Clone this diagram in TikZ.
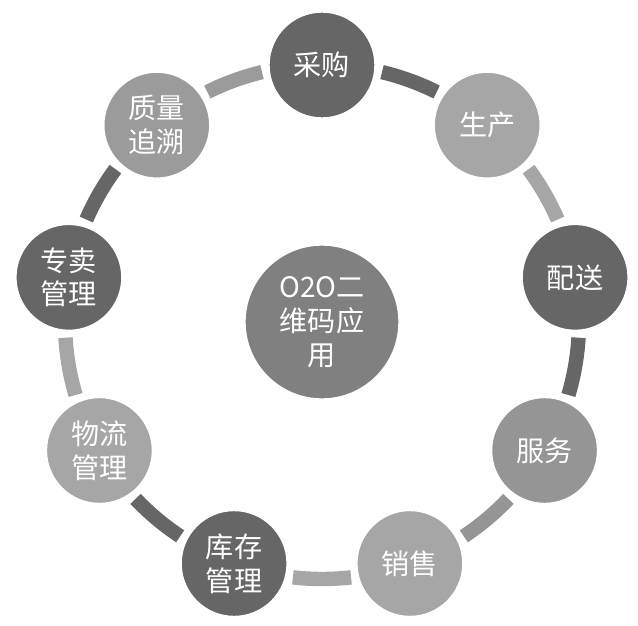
\documentclass[tikz,border=0pt]{standalone}
\usepackage{fontspec}
\setmainfont{Noto Sans CJK SC}
\definecolor{dk}{HTML}{666666}
\definecolor{lt}{HTML}{A6A6A6}
\definecolor{md}{HTML}{959595}
\definecolor{qz}{HTML}{9B9B9B}
\definecolor{ct}{HTML}{808080}

\begin{document}
\begin{tikzpicture}[x=0.025cm,y=0.025cm,
  stage/.style={circle,minimum size=2.65cm,inner sep=0pt,draw=white,line width=1pt,
    text=white,align=center,font=\fontsize{20}{24}\selectfont},
  hub/.style={stage,minimum size=3.85cm}]
\useasboundingbox (-322,-303) rectangle (316,322);
% ring pieces, each in the colour of the circle before it
\foreach \a/\col in {90/dk,50/lt,10/dk,-30/md,-70/lt,-110/dk,-150/lt,-190/dk,-230/qz}
  \draw[\col,line width=0.36cm] (\a-13.5:257) arc[start angle=\a-13.5,end angle=\a-26.5,radius=257];
% the nine stages
\foreach \a/\name/\col/\txt in {90/cg/dk/采购,50/sc/lt/生产,10/ps/dk/配送,-30/fw/md/服务,-70/xs/lt/销售,
    -110/kc/dk/库存\\管理,-150/wl/lt/物流\\管理,-190/zm/dk/专卖\\管理,-230/zl/qz/质量\\追溯}
  \node[stage,fill=\col] (\name) at (\a:257) {\txt};
\node[hub,fill=ct] (o2o) at (0,0) {O2O二\\维码应\\用};
\end{tikzpicture}
\end{document}
